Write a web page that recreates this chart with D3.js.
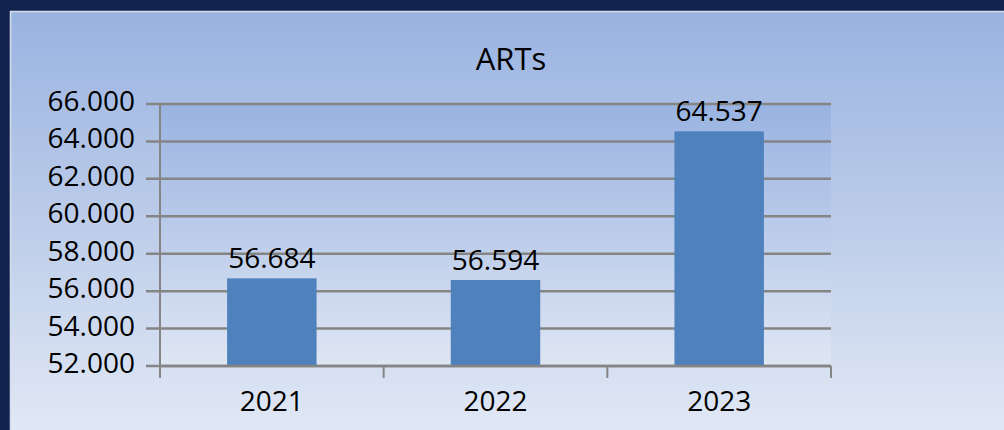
<!DOCTYPE html>
<html>
<head>
<meta charset="utf-8">
<script src="https://cdn.jsdelivr.net/npm/d3@7"></script>
<style>
  html, body { margin: 0; padding: 0; background: #12234f; }
  svg { display: block; }
  text { font-family: "Open Sans", "Noto Sans", sans-serif; fill: #000; }
</style>
</head>
<body>
<svg id="chart" width="1004" height="430"></svg>
<script>
const title = "ARTs";
const categories = ["2021", "2022", "2023"];
const values = [56684, 56594, 64537];
const yTicks = [52000, 54000, 56000, 58000, 60000, 62000, 64000, 66000];

const W = 1004, H = 430;
const panel = { x: 10, y: 11 };
const plot = { left: 160, right: 831, top: 104, bottom: 366 };

const locale = d3.formatLocale({ decimal: ",", thousands: ".", grouping: [3], currency: ["", "€"] });
const fmt = locale.format(",d");

const svg = d3.select("#chart");
const defs = svg.append("defs");

const g1 = defs.append("linearGradient").attr("id", "bgGrad")
  .attr("x1", 0).attr("y1", 0).attr("x2", 0).attr("y2", 1);
g1.append("stop").attr("offset", "0%").attr("stop-color", "#99b3e1");
g1.append("stop").attr("offset", "50%").attr("stop-color", "#bccce9");
g1.append("stop").attr("offset", "100%").attr("stop-color", "#e1e8f5");

const g2 = defs.append("linearGradient").attr("id", "plotGrad")
  .attr("x1", 0).attr("y1", 0).attr("x2", 0).attr("y2", 1);
g2.append("stop").attr("offset", "0%").attr("stop-color", "#99b3e1");
g2.append("stop").attr("offset", "100%").attr("stop-color", "#dfe6f3");

svg.append("rect").attr("x", 0).attr("y", 0).attr("width", W).attr("height", H).attr("fill", "#12234f");
svg.append("rect").attr("x", panel.x).attr("y", panel.y)
  .attr("width", W - panel.x).attr("height", H - panel.y).attr("fill", "url(#bgGrad)");
svg.append("line").attr("x1", panel.x).attr("x2", W).attr("y1", panel.y + 0.5).attr("y2", panel.y + 0.5)
  .attr("stroke", "#d6deec").attr("stroke-width", 1.5);
svg.append("line").attr("x1", panel.x + 0.5).attr("x2", panel.x + 0.5).attr("y1", panel.y).attr("y2", H)
  .attr("stroke", "#d6deec").attr("stroke-width", 1.5);

svg.append("rect").attr("x", plot.left).attr("y", plot.top)
  .attr("width", plot.right - plot.left).attr("height", plot.bottom - plot.top)
  .attr("fill", "url(#plotGrad)");

const x = d3.scaleBand().domain(categories).range([plot.left, plot.right])
  .paddingInner(0.6).paddingOuter(0.3);
const y = d3.scaleLinear().domain([d3.min(yTicks), d3.max(yTicks)]).range([plot.bottom, plot.top]);

const gridColor = "#858585";

svg.append("g").selectAll("line").data(yTicks).join("line")
  .attr("x1", plot.left - 14).attr("x2", plot.right)
  .attr("y1", d => y(d)).attr("y2", d => y(d))
  .attr("stroke", gridColor).attr("stroke-width", 2.5);

svg.append("g").selectAll("text").data(yTicks).join("text")
  .attr("x", plot.left - 25).attr("y", d => y(d) + 7)
  .attr("text-anchor", "end").attr("font-size", 28)
  .text(d => fmt(d));

svg.append("g").selectAll("rect").data(values).join("rect")
  .attr("x", (d, i) => x(categories[i]))
  .attr("y", d => y(d))
  .attr("width", x.bandwidth())
  .attr("height", d => plot.bottom - y(d))
  .attr("fill", "#4f81bd");

svg.append("g").selectAll("text").data(values).join("text")
  .attr("x", (d, i) => x(categories[i]) + x.bandwidth() / 2)
  .attr("y", d => y(d) - 10)
  .attr("text-anchor", "middle").attr("font-size", 28)
  .text(d => fmt(d));

svg.append("line").attr("x1", plot.left).attr("x2", plot.left)
  .attr("y1", plot.top).attr("y2", plot.bottom + 12)
  .attr("stroke", gridColor).attr("stroke-width", 2);
svg.append("line").attr("x1", plot.left).attr("x2", plot.right)
  .attr("y1", plot.bottom).attr("y2", plot.bottom)
  .attr("stroke", gridColor).attr("stroke-width", 2.5);

const step = x.step();
const bounds = categories.map(c => x(c) - step * 0.3).concat([x(categories[categories.length - 1]) + x.bandwidth() + step * 0.3]);
svg.append("g").selectAll("line").data(bounds).join("line")
  .attr("x1", d => d).attr("x2", d => d)
  .attr("y1", plot.bottom).attr("y2", plot.bottom + 12)
  .attr("stroke", gridColor).attr("stroke-width", 2);

svg.append("g").selectAll("text").data(categories).join("text")
  .attr("x", d => x(d) + x.bandwidth() / 2)
  .attr("y", 411)
  .attr("text-anchor", "middle").attr("font-size", 28)
  .text(d => d);

svg.append("text").attr("x", 511).attr("y", 70)
  .attr("text-anchor", "middle").attr("font-size", 31)
  .text(title);
</script>
</body>
</html>
